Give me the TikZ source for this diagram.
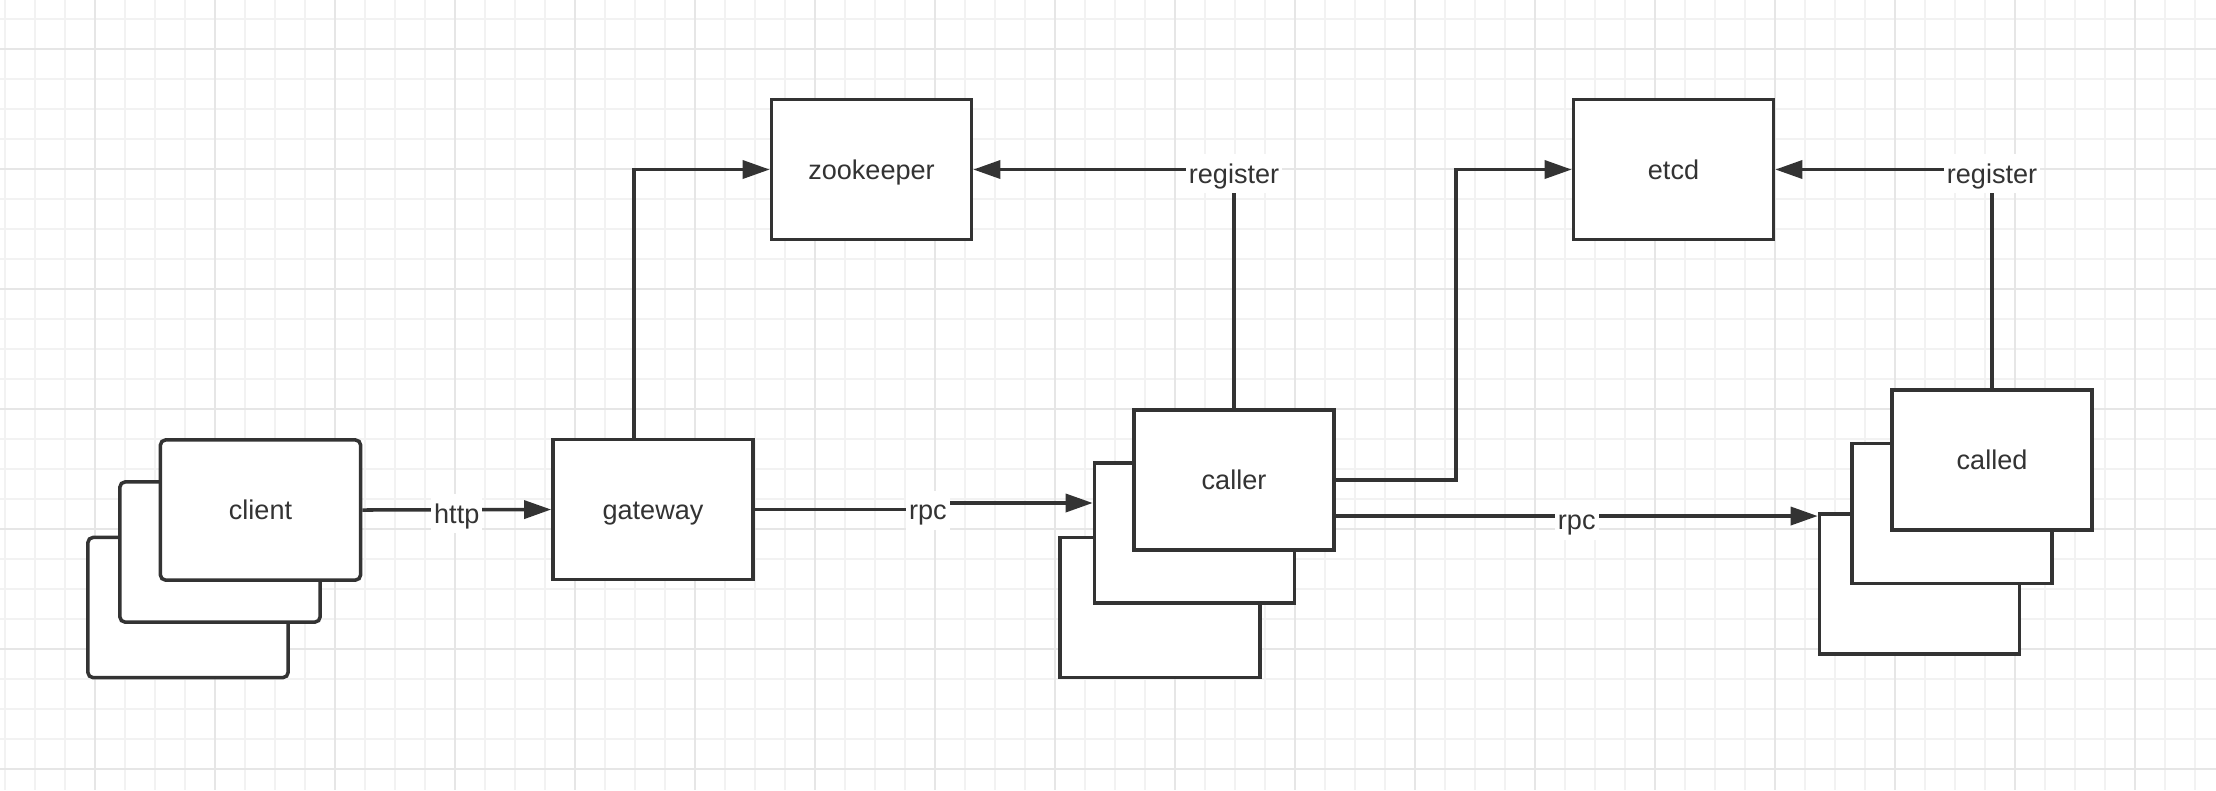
\documentclass[tikz,border=0pt]{standalone}
\usepackage{fontspec}
\setmainfont{Liberation Sans}
\usepackage{tikz}
\usetikzlibrary{arrows.meta}

\definecolor{ink}{HTML}{333333}
\definecolor{gridminor}{HTML}{F2F2F2}
\definecolor{gridmajor}{HTML}{E6E6E6}

\tikzset{
	box/.style={draw=ink,fill=white,line width=1pt,minimum width=2cm,minimum height=1.4cm,
		inner sep=0pt,text=ink,text height=0.75em,text depth=0.2em,font=\fontsize{7.7pt}{9pt}\selectfont},
	cbox/.style={box,rounded corners=0.05cm},
	conn/.style={draw=ink,line width=1pt,-{Triangle[length=0.27cm,width=0.18cm]}},
	lbl/.style={fill=white,text=ink,inner sep=0.03cm,text height=0.75em,text depth=0.2em,
		yshift=-0.04cm,font=\fontsize{7.7pt}{9pt}\selectfont},
	minorline/.style={draw=gridminor,line width=0.015cm},
	majorline/.style={draw=gridmajor,line width=0.02cm}
}

\begin{document}
\begin{tikzpicture}[x=0.01cm,y=-0.01cm]
		\useasboundingbox (0,0) rectangle (2216,790);
		\fill[white] (0,0) rectangle (2216,790);
		\foreach \x in {5,35,...,2215}
		\draw[minorline] (\x,0) -- (\x,790);
		\foreach \y in {19,49,...,790}
		\draw[minorline] (0,\y) -- (2216,\y);
		\foreach \x in {95,215,...,2216}
		\draw[majorline] (\x,0) -- (\x,790);
		\foreach \y in {49,169,...,790}
		\draw[majorline] (0,\y) -- (2216,\y);

		\node[cbox] (CL2) at (188,607.5) {};
		\node[cbox] (CL1) at (220,552) {};
		\node[cbox] (CL0) at (260.5,510) {client};
		\node[box] (GW) at (653,509.5) {gateway};
		\node[box] (ZK) at (871.5,169.5) {zookeeper};
		\node[box] (ET) at (1673.5,169.5) {etcd};
		\node[box] (CR2) at (1160,607.5) {};
		\node[box] (CR1) at (1194.5,533) {};
		\node[box] (CR0) at (1234,480) {caller};
		\node[box] (CD2) at (1919.5,584) {};
		\node[box] (CD1) at (1952,513.5) {};
		\node[box] (CD0) at (1992,460) {called};

		\draw[conn] (CL0.east) -- node[lbl] {http} (GW.west);
		\draw[conn] ([xshift=-0.19cm]GW.north) |- (ZK.west);
		\draw[conn] (GW.east) -- ++(173,0) |- node[lbl,pos=0.25] {rpc} ([yshift=0.3cm]CR1.west);
		\draw[conn] (CR0.north) |- node[lbl] {register} (ZK.east);
		\draw[conn] (CR0.east) -- ++(120,0) |- (ET.west);
		\coordinate (RPC) at ([yshift=-0.36cm]CR0.east);
		\draw[conn] (RPC) -- node[lbl] {rpc} (RPC -| CD2.west);
		\draw[conn] (CD0.north) |- node[lbl] {register} (ET.east);
	    \end{tikzpicture}
\end{document}
